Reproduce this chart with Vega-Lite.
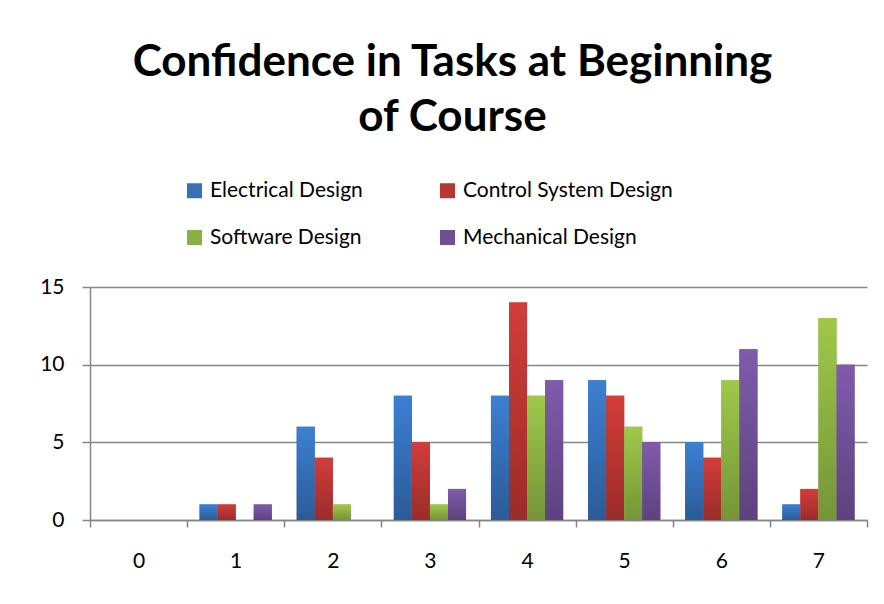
{
  "$schema": "https://vega.github.io/schema/vega-lite/v6.json",
  "autosize": "none",
  "width": 777,
  "height": 233,
  "padding": {"left": 90, "top": 287, "right": 17, "bottom": 84},
  "background": "white",
  "title": {
    "text": ["Confidence in Tasks at Beginning", "of Course"],
    "font": "Lato",
    "fontSize": 44,
    "fontWeight": "bold",
    "color": "black",
    "lineHeight": 55,
    "anchor": "middle",
    "dx": -26,
    "offset": 40
  },
  "data": {
    "values": [
      {"rating": 0, "series": "Electrical Design", "count": 0},
      {"rating": 0, "series": "Control System Design", "count": 0},
      {"rating": 0, "series": "Software Design", "count": 0},
      {"rating": 0, "series": "Mechanical Design", "count": 0},
      {"rating": 1, "series": "Electrical Design", "count": 1},
      {"rating": 1, "series": "Control System Design", "count": 1},
      {"rating": 1, "series": "Software Design", "count": 0},
      {"rating": 1, "series": "Mechanical Design", "count": 1},
      {"rating": 2, "series": "Electrical Design", "count": 6},
      {"rating": 2, "series": "Control System Design", "count": 4},
      {"rating": 2, "series": "Software Design", "count": 1},
      {"rating": 2, "series": "Mechanical Design", "count": 0},
      {"rating": 3, "series": "Electrical Design", "count": 8},
      {"rating": 3, "series": "Control System Design", "count": 5},
      {"rating": 3, "series": "Software Design", "count": 1},
      {"rating": 3, "series": "Mechanical Design", "count": 2},
      {"rating": 4, "series": "Electrical Design", "count": 8},
      {"rating": 4, "series": "Control System Design", "count": 14},
      {"rating": 4, "series": "Software Design", "count": 8},
      {"rating": 4, "series": "Mechanical Design", "count": 9},
      {"rating": 5, "series": "Electrical Design", "count": 9},
      {"rating": 5, "series": "Control System Design", "count": 8},
      {"rating": 5, "series": "Software Design", "count": 6},
      {"rating": 5, "series": "Mechanical Design", "count": 5},
      {"rating": 6, "series": "Electrical Design", "count": 5},
      {"rating": 6, "series": "Control System Design", "count": 4},
      {"rating": 6, "series": "Software Design", "count": 9},
      {"rating": 6, "series": "Mechanical Design", "count": 11},
      {"rating": 7, "series": "Electrical Design", "count": 1},
      {"rating": 7, "series": "Control System Design", "count": 2},
      {"rating": 7, "series": "Software Design", "count": 13},
      {"rating": 7, "series": "Mechanical Design", "count": 10}
    ]
  },
  "encoding": {
    "x": {
      "field": "rating",
      "type": "ordinal",
      "scale": {"paddingInner": 0, "paddingOuter": 0},
      "axis": {
        "title": null,
        "labelAngle": 0,
        "labelFont": "Lato",
        "labelFontSize": 21,
        "labelColor": "black",
        "labelPadding": 23,
        "tickBand": "extent",
        "tickSize": 7,
        "tickColor": "#868686",
        "tickWidth": 1.5,
        "domainColor": "#868686",
        "domainWidth": 1.5,
        "grid": false
      }
    },
    "xOffset": {
      "field": "series",
      "type": "nominal",
      "scale": {"domain": ["Electrical Design", "Control System Design", "Software Design", "Mechanical Design"], "paddingInner": 0, "paddingOuter": 0.69}
    },
    "y": {
      "field": "count",
      "type": "quantitative",
      "scale": {"domain": [0, 15], "nice": false},
      "axis": {
        "title": null,
        "values": [0, 5, 10, 15],
        "labelFont": "Lato",
        "labelFontSize": 21,
        "labelColor": "black",
        "labelPadding": 18,
        "tickSize": 8,
        "tickColor": "#868686",
        "tickWidth": 1.5,
        "domainColor": "#868686",
        "domainWidth": 1.5,
        "grid": true,
        "gridColor": "#868686",
        "gridWidth": 1.5
      }
    }
  },
  "layer": [
    {
      "mark": {"type": "bar"},
      "encoding": {
        "color": {
          "field": "series",
          "type": "nominal",
          "scale": {
            "domain": ["Electrical Design", "Software Design", "Control System Design", "Mechanical Design"],
            "range": ["#3670B8", "#8BB043", "#B83634", "#6F5096"]
          },
          "legend": {
            "title": null,
            "orient": "none",
            "legendX": 94,
            "legendY": -107,
            "columns": 2,
            "columnPadding": 74,
            "rowPadding": 25,
            "symbolType": "square",
            "symbolSize": 225,
            "symbolStrokeWidth": 0,
            "labelFont": "Lato",
            "labelFontSize": 21,
            "labelColor": "black",
            "labelOffset": 5,
            "labelLimit": 400
          }
        }
      }
    },
    {
      "transform": [{"filter": "datum.series === 'Electrical Design'"}],
      "mark": {"type": "bar", "color": {"gradient": "linear", "x1": 0, "y1": 0, "x2": 0, "y2": 1, "stops": [{"offset": 0, "color": "#3C80D2"}, {"offset": 1, "color": "#2B5B98"}]}}
    },
    {
      "transform": [{"filter": "datum.series === 'Control System Design'"}],
      "mark": {"type": "bar", "color": {"gradient": "linear", "x1": 0, "y1": 0, "x2": 0, "y2": 1, "stops": [{"offset": 0, "color": "#D23D3A"}, {"offset": 1, "color": "#9A2C2A"}]}}
    },
    {
      "transform": [{"filter": "datum.series === 'Software Design'"}],
      "mark": {"type": "bar", "color": {"gradient": "linear", "x1": 0, "y1": 0, "x2": 0, "y2": 1, "stops": [{"offset": 0, "color": "#9FC84B"}, {"offset": 1, "color": "#759537"}]}}
    },
    {
      "transform": [{"filter": "datum.series === 'Mechanical Design'"}],
      "mark": {"type": "bar", "color": {"gradient": "linear", "x1": 0, "y1": 0, "x2": 0, "y2": 1, "stops": [{"offset": 0, "color": "#805BAC"}, {"offset": 1, "color": "#5C427E"}]}}
    }
  ],
  "config": {
    "view": {"stroke": null}
  }
}
